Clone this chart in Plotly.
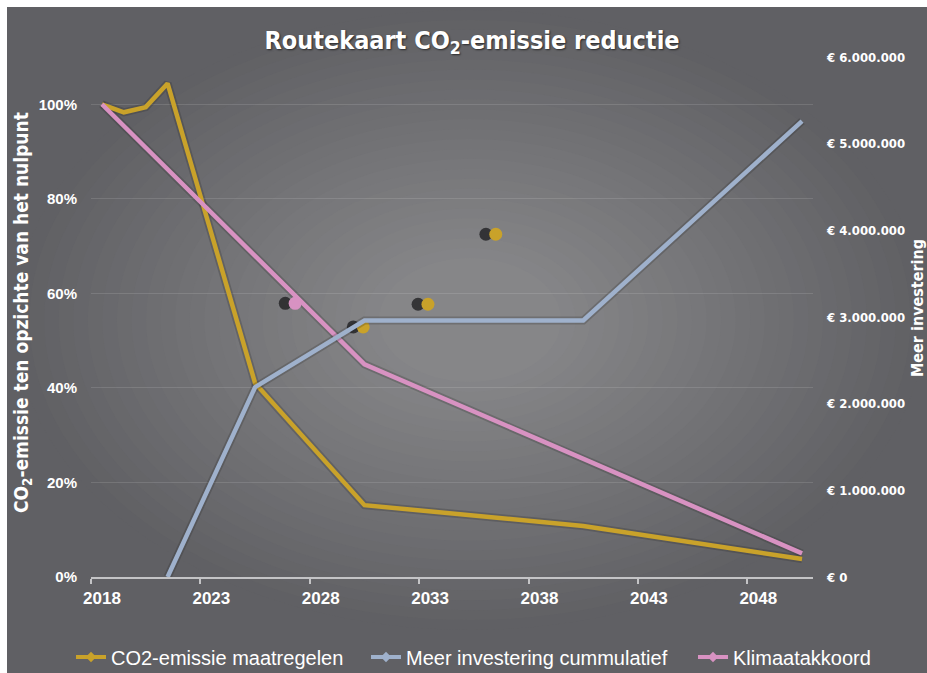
import plotly.graph_objects as go

# ---------------- data ----------------
years_co2 = [2018, 2019, 2020, 2021, 2025, 2030, 2040, 2050]
co2_pct = [1.00, 0.983, 0.994, 1.044, 0.41, 0.152, 0.108, 0.038]

years_inv = [2021, 2025, 2030, 2040, 2050]
investering = [0, 2190000, 2960000, 2960000, 5260000]

years_klim = [2018, 2030, 2050]
klimaat_pct = [1.00, 0.45, 0.05]

dot_years = [2026.83, 2029.94, 2032.9, 2036.0]
dot_pct = [0.579, 0.529, 0.577, 0.725]

x_tick_years = [2018, 2023, 2028, 2033, 2038, 2043, 2048]
y_left_ticks = [0, 0.2, 0.4, 0.6, 0.8, 1.0]
y_right_ticks = [0, 1000000, 2000000, 3000000, 4000000, 5000000, 6000000]
y_right_labels = ["€ 0", "€ 1.000.000", "€ 2.000.000", "€ 3.000.000",
                  "€ 4.000.000", "€ 5.000.000", "€ 6.000.000"]

names = ["CO2-emissie maatregelen", "Meer investering cummulatief", "Klimaatakkoord"]

# ---------------- style ----------------
YELLOW = "#c9a22a"
BLUE = "#9fb1cc"
PINK = "#d892c2"
dot_colors = [PINK, YELLOW, YELLOW, YELLOW]

W, H = 927, 673
L, R, T, B = 91, 813, 57, 577  # plot area (px)


def px(x_ref):
    return (x_ref - L) / (R - L)


def py(y_ref):
    return (B - y_ref) / (B - T)


fig = go.Figure()

SHADOW = "rgba(30,30,30,0.22)"
fig.add_trace(go.Scatter(x=years_co2, y=co2_pct, mode="lines",
                         line=dict(color=SHADOW, width=8),
                         showlegend=False, hoverinfo="skip"))
fig.add_trace(go.Scatter(x=years_inv, y=investering, yaxis="y2", mode="lines",
                         line=dict(color=SHADOW, width=8),
                         showlegend=False, hoverinfo="skip"))
fig.add_trace(go.Scatter(x=years_klim, y=klimaat_pct, mode="lines",
                         line=dict(color=SHADOW, width=8),
                         showlegend=False, hoverinfo="skip"))

fig.add_trace(go.Scatter(x=years_co2, y=co2_pct, mode="lines",
                         line=dict(color=YELLOW, width=4.5), showlegend=False))
fig.add_trace(go.Scatter(x=years_inv, y=investering, yaxis="y2", mode="lines",
                         line=dict(color=BLUE, width=4.5), showlegend=False))
fig.add_trace(go.Scatter(x=years_klim, y=klimaat_pct, mode="lines",
                         line=dict(color=PINK, width=4.5), showlegend=False))

# dots with dark shadow
shadow_dx = 0.45
fig.add_trace(go.Scatter(x=[d - shadow_dx for d in dot_years], y=dot_pct, mode="markers",
                         marker=dict(color="rgba(25,25,28,0.75)", size=13, line=dict(width=0)),
                         showlegend=False, hoverinfo="skip"))
fig.add_trace(go.Scatter(x=dot_years, y=dot_pct, mode="markers",
                         marker=dict(color=dot_colors, size=13, line=dict(width=0)),
                         showlegend=False))

# legend entries, each in its own legend box
COND = "DejaVu Sans Condensed, DejaVu Sans, sans-serif"
ARIAL = "Liberation Sans, Arial, sans-serif"
legend_ids = ["legend", "legend2", "legend3"]
legend_text_x = [113, 408, 735]  # reference px where each legend text starts
for nm, col, lid in zip(names, [YELLOW, BLUE, PINK], legend_ids):
    fig.add_trace(go.Scatter(x=[None], y=[None], mode="lines+markers", name=nm,
                             legend=lid,
                             line=dict(color=col, width=4),
                             marker=dict(color=col, size=8, symbol="diamond")))

legend_layout = {}
for lid, tx in zip(legend_ids, legend_text_x):
    legend_layout[lid] = dict(
        orientation="h", xref="container", x=(tx - 40 - 2) / W, xanchor="left",
        yref="container", y=1 - 657 / H, yanchor="middle",
        font=dict(family=ARIAL, size=20, color="white"),
        bgcolor="rgba(0,0,0,0)", itemwidth=30, tracegroupgap=0)

# ---------------- background ----------------
edge = (96, 96, 100)
center = (134, 134, 136)
shapes = []
N = 26
cx, cy = 470, 320
rxm, rym = 455, 310
for i in range(N):
    t = i / (N - 1)
    s = 1 - 0.8 * t
    col = tuple(round(edge[k] + (center[k] - edge[k]) * t) for k in range(3))
    shapes.append(dict(type="circle", xref="paper", yref="paper", layer="below",
                       x0=px(cx - rxm * s), x1=px(cx + rxm * s),
                       y0=py(cy + rym * s), y1=py(cy - rym * s),
                       fillcolor="rgb(%d,%d,%d)" % col, line=dict(width=0)))
# thin white page border at top and left
shapes.append(dict(type="rect", xref="paper", yref="paper", layer="below",
                   x0=px(-2), x1=px(W + 2), y0=py(7), y1=py(-2),
                   fillcolor="white", line=dict(width=0)))
shapes.append(dict(type="rect", xref="paper", yref="paper", layer="below",
                   x0=px(-2), x1=px(7), y0=py(H + 2), y1=py(-2),
                   fillcolor="white", line=dict(width=0)))

annotations = [
    dict(text="CO<sub>2</sub>-emissie ten opzichte van het nulpunt", textangle=-90,
         xref="paper", yref="paper", x=px(22), y=py(313), showarrow=False,
         font=dict(family=COND, size=19, color="white", weight="bold"),
         xanchor="center", yanchor="middle"),
    dict(text="Meer investering", textangle=-90,
         xref="paper", yref="paper", x=px(917), y=py(308), showarrow=False,
         font=dict(family=COND, size=16, color="white", weight="bold"),
         xanchor="center", yanchor="middle"),
]

fig.update_layout(
    width=W, height=H,
    margin=dict(l=L, r=W - R, t=T, b=H - B, autoexpand=False),
    paper_bgcolor="rgb(%d,%d,%d)" % edge,
    plot_bgcolor="rgba(0,0,0,0)",
    title=dict(text="Routekaart CO<sub>2</sub>-emissie reductie",
               x=px(472), xref="paper", xanchor="center",
               y=1 - 40 / H, yanchor="middle",
               font=dict(family=COND, size=25, color="white", weight="bold",
                         shadow="1px 1px 2px rgba(0,0,0,0.6)")),
    xaxis=dict(range=[2017.5, 2050.5], tickvals=x_tick_years,
               ticktext=[str(v) for v in x_tick_years], ticks="",
               showgrid=False, zeroline=False,
               showline=True, linecolor="#c4c4c6", linewidth=2,
               tickfont=dict(family=ARIAL, size=17, color="white", weight="bold"),
               ticklabelstandoff=5,
               minor=dict(tickvals=[v - 0.5 for v in x_tick_years], ticks="outside",
                          ticklen=5, tickcolor="#c4c4c6", tickwidth=2, showgrid=False)),
    yaxis=dict(range=[0, 1.1], tickvals=y_left_ticks, tickformat=".0%",
               showgrid=True, gridcolor="rgba(255,255,255,0.12)", gridwidth=1,
               zeroline=False, showline=False, ticks="",
               tickfont=dict(family=ARIAL, size=15, color="white", weight="bold"),
               ticklabelstandoff=13),
    yaxis2=dict(range=[0, 6000000], overlaying="y", side="right",
                tickvals=y_right_ticks, ticktext=y_right_labels,
                showgrid=False, zeroline=False, showline=False, ticks="",
                tickfont=dict(family=COND, size=13, color="white", weight="bold"),
                ticklabelstandoff=13),
    shapes=shapes,
    annotations=annotations,
    showlegend=True,
    **legend_layout,
)

fig.write_html(
    "out.html",
    config={"displayModeBar": False},
    post_script="document.body.style.margin='0';document.body.style.overflow='hidden';",
)
